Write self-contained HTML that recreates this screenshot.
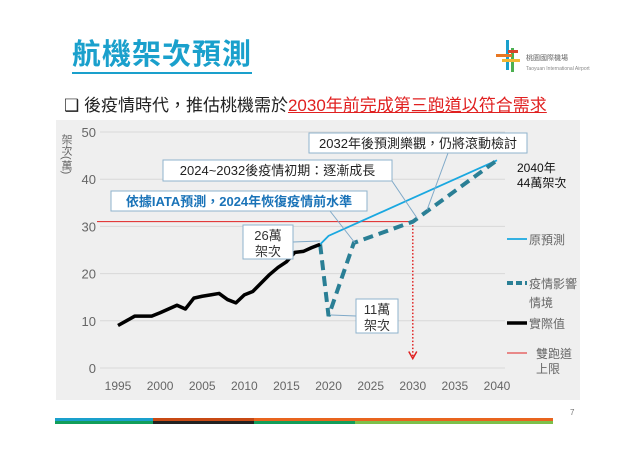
<!DOCTYPE html>
<html><head><meta charset="utf-8"><style>
body{margin:0;width:640px;height:452px;background:#fff;position:relative;overflow:hidden;font-family:"Liberation Sans","Noto Sans CJK TC",sans-serif}
.abs{position:absolute}
</style></head><body>
<div class="abs" style="left:72px;top:38px;font-size:29px;color:#1aa0cc;font-weight:bold;letter-spacing:1px;border-bottom:2px solid #1aa0cc;line-height:34px">航機架次預測</div>
<svg class="abs" style="left:494px;top:40px" width="120" height="36">
<rect x="12" y="0" width="3" height="30" fill="#1aa0cc"/><rect x="17" y="8" width="3" height="24" fill="#4caf50"/><rect x="2" y="14" width="16" height="3" fill="#e87722"/><rect x="8" y="19" width="18" height="3" fill="#f2b632"/><rect x="14" y="10" width="10" height="3" fill="#d9442a"/>
<text x="32" y="20" font-size="7" fill="#666">桃園國際機場</text><text x="32" y="30" font-size="5" fill="#888">Taoyuan International Airport</text></svg>
<div class="abs" style="left:64px;top:91px;font-size:17px;color:#222;white-space:nowrap">❑ 後疫情時代，推估桃機需於<span style="color:#e02020;text-decoration:underline">2030年前完成第三跑道以符合需求</span></div>
<div class="abs" style="left:56px;top:120px;width:524px;height:280px;background:#efefef"></div>
<div class="abs" style="left:60px;top:134px;font-size:11px;color:#666;writing-mode:vertical-rl;line-height:12px">架次(萬)</div>
<svg id="chart" class="abs" style="left:0;top:0" width="640" height="452"></svg>
<div class="abs" style="left:570px;top:408px;font-size:8px;color:#777">7</div>
<div class="abs" style="left:55px;top:418px;width:498px;height:6px">
<div class="abs" style="left:0;top:0;width:98px;height:3px;background:#1aa0cc"></div><div class="abs" style="left:0;top:3px;width:98px;height:3px;background:#129e5a"></div>
<div class="abs" style="left:98px;top:0;width:101px;height:3px;background:#c84a14"></div><div class="abs" style="left:98px;top:3px;width:101px;height:3px;background:#222"></div>
<div class="abs" style="left:199px;top:0;width:299px;height:3px;background:#e8641e"></div><div class="abs" style="left:199px;top:3px;width:101px;height:3px;background:#129e5a"></div><div class="abs" style="left:300px;top:3px;width:198px;height:3px;background:#7cc04a"></div></div>
<script>
const years=[1995,1996,1997,1998,1999,2000,2001,2002,2003,2004,2005,2006,2007,2008,2009,2010,2011,2012,2013,2014,2015,2016,2017,2018,2019];
const actual=[9,10,11,11,11,11.7,12.5,13.3,12.5,14.8,15.2,15.5,15.8,14.5,13.8,15.5,16.2,18,19.8,21.3,22.5,24.5,24.7,25.5,26.2];
const origYears=[2019,2020,2030,2040];
const origVals=[26.2,28,36,44];
const covidYears=[2019,2020,2023,2030,2040];
const covidVals=[26.2,11,26.5,31,44];
const runwayCap=31;
const yTicks=[0,10,20,30,40,50];
const xTicks=[1995,2000,2005,2010,2015,2020,2025,2030,2035,2040];
const NS='http://www.w3.org/2000/svg';
const svg=document.getElementById('chart');
const X=y=>118+(y-1995)*(379/45);
const Y=v=>368-v*4.72;
function mk(t,a,p){const e=document.createElementNS(NS,t);for(const k in a)e.setAttribute(k,a[k]);(p||svg).appendChild(e);return e;}
yTicks.forEach(v=>{
 const g=mk('line',{x1:100,x2:505,y1:Y(v),y2:Y(v),stroke:'#d8d8d8','stroke-width':1});
 
 
 const t=mk('text',{x:96,y:Y(v)+5,'text-anchor':'end','font-size':13,fill:'#666'});t.textContent=v;
 
 
});
xTicks.forEach(v=>{const t=mk('text',{x:X(v),y:390,'text-anchor':'middle','font-size':12,fill:'#666'});t.textContent=v;
 
 });
const pts=(xs,vs)=>xs.map((x,i)=>X(x)+','+Y(vs[i])).join(' ');
const rc=mk('line',{x1:97,x2:X(2030),y1:Y(runwayCap),y2:Y(runwayCap),stroke:'#e02020','stroke-width':1});


const ar=mk('line',{x1:X(2030),x2:X(2030),y1:Y(runwayCap),y2:Y(2.5),stroke:'#e02020','stroke-width':1.5,'stroke-dasharray':'1.5 2'});


const ah=mk('path',{d:`M${X(2030)-4},${Y(3.5)} L${X(2030)},${Y(2)} L${X(2030)+4},${Y(3.5)}`,fill:'none',stroke:'#e02020','stroke-width':1.5});


const o=mk('polyline',{points:pts(origYears,origVals),fill:'none',stroke:'#1aa8e0','stroke-width':1.8});


const c=mk('polyline',{points:pts(covidYears,covidVals),fill:'none',stroke:'#2a7f95','stroke-width':4,'stroke-dasharray':'10 6'});


const a=mk('polyline',{points:pts(years,actual),fill:'none',stroke:'#000','stroke-width':3.5,'stroke-linejoin':'round'});


function box(name,x,y,w,h,lines,color,bold,lx1,ly1,lx2,ly2){
 const l=mk('line',{x1:lx1,y1:ly1,x2:lx2,y2:ly2,stroke:'#7fa9c8','stroke-width':1});
 
 
 const r=mk('rect',{x:x,y:y,width:w,height:h,fill:'#fff',stroke:'#8fb3cc','stroke-width':1});
 
 
 lines.forEach((s,i)=>{const t=mk('text',{x:x+w/2,y:y+15+i*16,'text-anchor':'middle','font-size':13,fill:color,'font-weight':bold?'bold':'normal'});t.textContent=s;
 
 });
}
box('callout-2032',309,133,218,20,['2032年後預測樂觀，仍將滾動檢討'],'#222',false,448,153,427,210);
box('callout-2024-2032',163,160,229,21,['2024~2032後疫情初期：逐漸成長'],'#222',false,392,181,417,218);
box('callout-iata',111,191,256,20,['依據IATA預測，2024年恢復疫情前水準'],'#1a73b8',true,330,211,355,243);
box('callout-26',243,225,50,34,['26萬','架次'],'#333',false,293,242,320,241);
box('callout-11',356,299,42,34,['11萬','架次'],'#333',false,356,316,331,315);
const e1=mk('text',{x:517,y:172,'font-size':12,fill:'#111'});e1.textContent='2040年';


const e2=mk('text',{x:517,y:187,'font-size':12,fill:'#111'});e2.textContent='44萬架次';


const leg=[[239,'原預測',null,'#1aa8e0',1.8,''],[283,'疫情影響','情境','#2a7f95',4,'6 3'],[323,'實際值',null,'#000',3.5,''],[353,'雙跑道','上限','#e02020',1,'']];
leg.forEach(d=>{
 const l=mk('line',{x1:507,x2:527,y1:d[0],y2:d[0],stroke:d[3],'stroke-width':d[4],'stroke-dasharray':d[5]});
 
 
 const t=mk('text',{x:d[2]&&d[1]=='雙跑道'?536:529,y:d[0]+5,'font-size':12,fill:'#666'});t.textContent=d[1];
 
 
 if(d[2]){const t2=mk('text',{x:d[1]=='雙跑道'?536:529,y:d[0]+24-(d[1]=='雙跑道'?4:0),'font-size':12,fill:'#666'});t2.textContent=d[2];
 
 }
});
</script>
</body></html>
